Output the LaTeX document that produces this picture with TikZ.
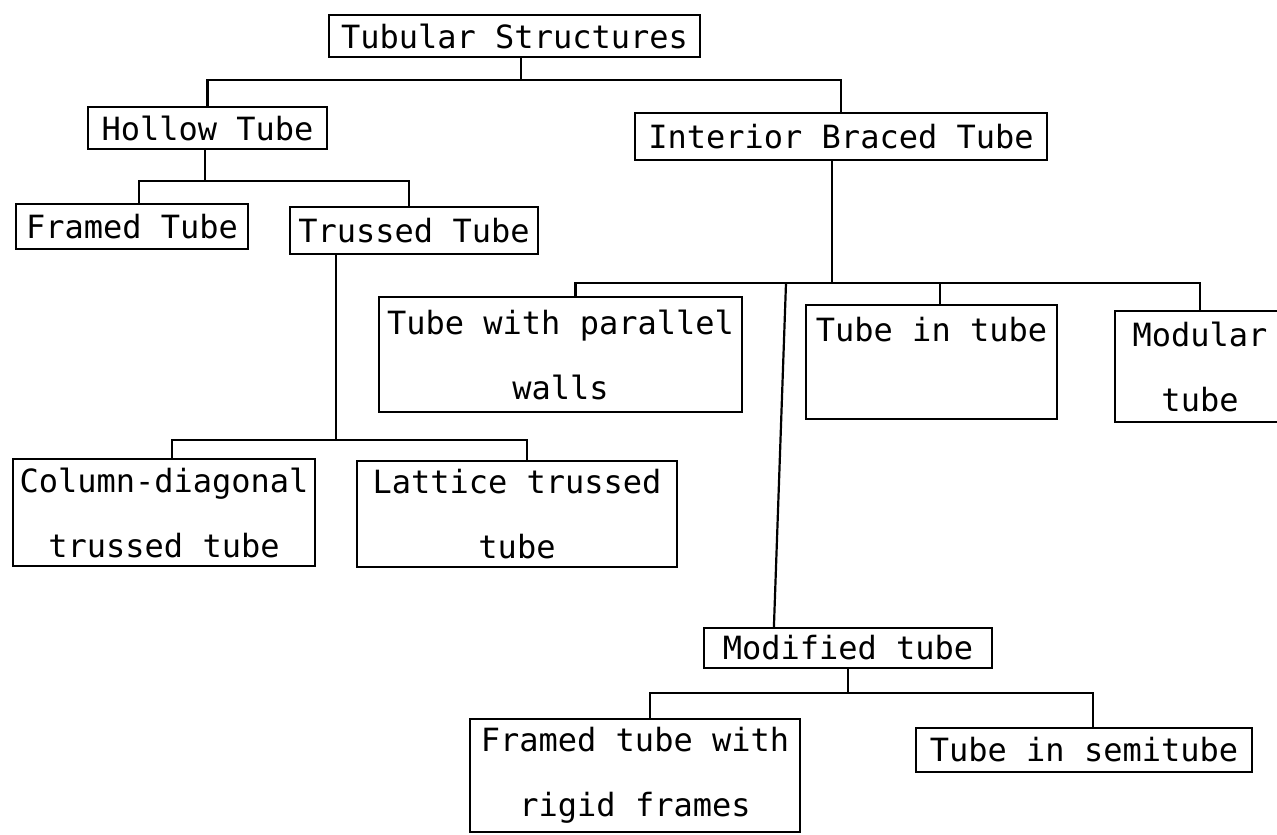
\documentclass[tikz,border=0pt]{standalone}
\usepackage{fontspec}
\newfontfamily\mono{DejaVu Sans Mono}
\usetikzlibrary{calc}
\begin{document}
\begin{tikzpicture}[x=0.5pt,y=-0.5pt,
  bx/.style 2 args={draw, line width=1.1pt, inner sep=0pt,
    minimum width=#1*0.5pt, minimum height=#2*0.5pt,
    font=\mono\fontsize{16pt}{32.5pt}\selectfont, align=center},
  ln/.style={line width=1.1pt}]
\fill[white] (0,0) rectangle (1277,834);
\useasboundingbox (0,0) rectangle (1277,834);
% boxes
\node[bx={371}{42}] (tub) at (514.5,36) {Tubular Structures};
\node[bx={239}{42}] (hol) at (207.5,128) {Hollow Tube};
\node[bx={412}{47}] (int) at (841,136.5) {Interior Braced Tube};
\node[bx={232}{45}] (fra) at (132,226.5) {Framed Tube};
\node[bx={248}{47}] (tru) at (414,230.5) {Trussed Tube};
\node[bx={302}{107}] (col) at (164,512.5) {Column-diagonal\\trussed tube};
\node[bx={320}{106}] (lat) at (517,514) {Lattice trussed\\tube};
\node[bx={363}{115}] (par) at (560.5,354.5) {Tube with parallel\\walls};
\node[bx={251}{114}] (tit) at (931.5,362) {Tube in tube\\\phantom{walls}};
\node[bx={170}{111}] (modu) at (1200,366.5) {Modular\\tube};
\node[bx={288}{40}] (mod) at (848,648) {Modified tube};
\node[bx={330}{113}] (frr) at (635,775.5) {Framed tube with\\rigid frames};
\node[bx={336}{44}] (sem) at (1084,750) {Tube in semitube};
% bus 1
\coordinate (j1) at (521,80);
\draw[ln] (tub.south -| j1) -- (j1);
\draw[ln] (hol.north) |- (j1) -| (int.north);
% bus 2
\coordinate (j2) at (205,181);
\coordinate (f1) at ($(fra.north)+(7,0)$);
\coordinate (t1) at ($(tru.north)+(-5,0)$);
\draw[ln] (hol.south -| j2) -- (j2);
\draw[ln] (f1) |- (j2) -| (t1);
% bus 3
\coordinate (j3) at (336,440);
\coordinate (c1) at ($(col.north)+(8,0)$);
\coordinate (l1) at ($(lat.north)+(10,0)$);
\draw[ln] (tru.south -| j3) -- (j3);
\draw[ln] (c1) |- (j3) -| (l1);
% bus 4
\coordinate (j4) at (832,283);
\coordinate (p1) at ($(par.north)+(15,0)$);
\coordinate (t2) at ($(tit.north)+(8.5,0)$);
\coordinate (m1) at (modu.north);
\draw[ln] (int.south -| j4) -- (j4);
\draw[ln] (p1) |- (j4) -| (m1);
\draw[ln] (t2) -- (t2 |- j4);
\coordinate (lv) at (786,283);
\coordinate (mv) at ($(mod.north west)+(71,0)$);
\draw[ln] (lv) -- (mv);
% bus 5
\coordinate (j5) at (849,693);
\coordinate (r1) at ($(frr.north)+(15,0)$);
\coordinate (s1) at ($(sem.north)+(9,0)$);
\draw[ln] (mod.south) -- (mod.south |- j5);
\draw[ln] (r1) |- (j5) -| (s1);
\end{tikzpicture}
\end{document}
